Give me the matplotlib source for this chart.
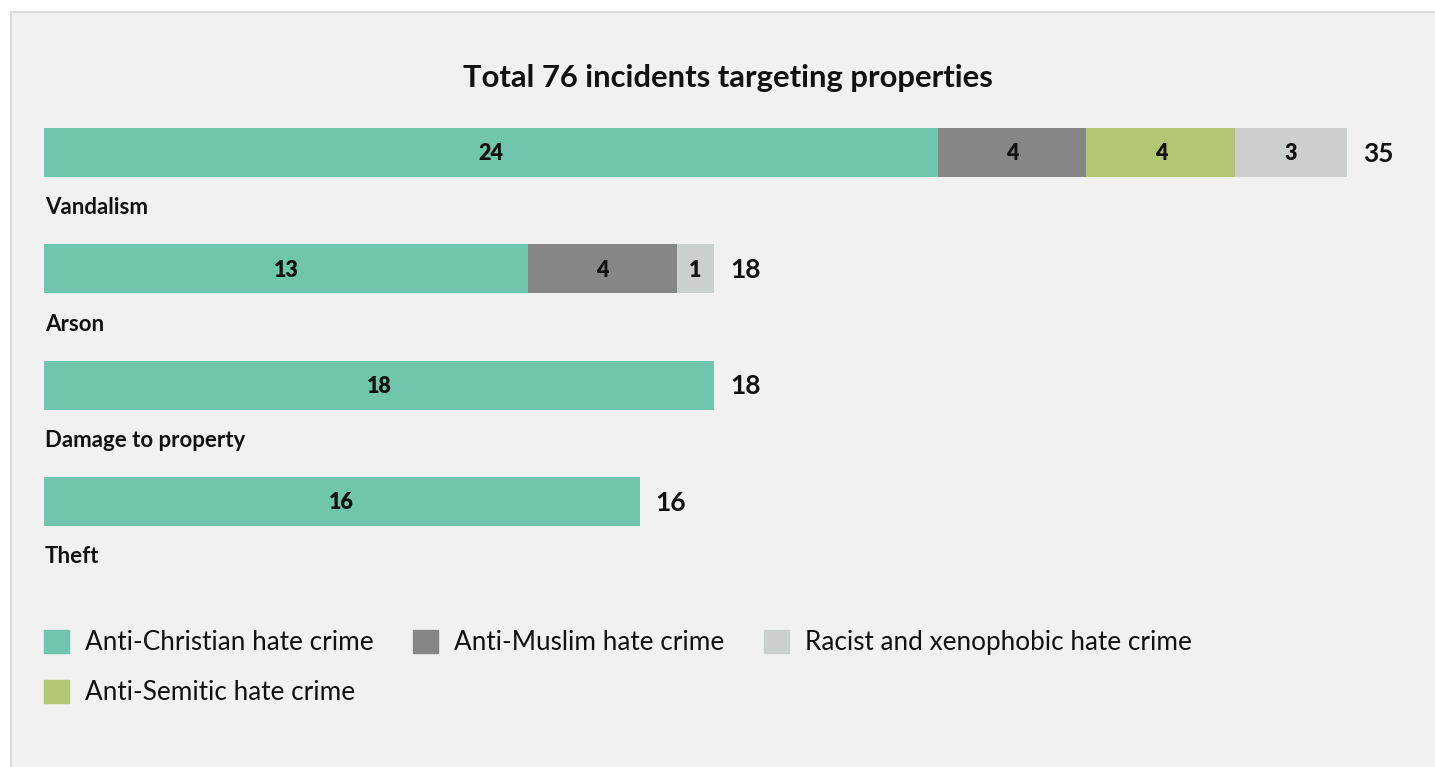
import matplotlib.pyplot as plt
import matplotlib.patches as mpatches
import numpy as np

# data
categories = ['Vandalism', 'Arson', 'Damage to property', 'Theft']
series = ['Anti-Christian hate crime', 'Anti-Muslim hate crime',
          'Anti-Semitic hate crime', 'Racist and xenophobic hate crime']
anti_christian = [24, 13, 18, 16]
anti_muslim = [4, 4, 0, 0]
anti_semitic = [4, 0, 0, 0]
racist = [3, 1, 0, 0]
title = 'Total 76 incidents targeting properties'

colors = ['#70c5ad', '#868686', '#b3c672', '#cbcfcf']
txt = '#111111'

plt.rcParams['font.family'] = ['Lato', 'DejaVu Sans']

W, H = 1435, 767
fig = plt.figure(figsize=(W / 100, H / 100), dpi=100, facecolor='white')

# panel background with light border
panel = mpatches.Rectangle((11 / W, -0.01), 1.0, (H - 12) / H + 0.01,
                           transform=fig.transFigure, facecolor='#f1f1f1',
                           edgecolor='#dcdcdc', linewidth=1.5, zorder=0)
fig.add_artist(panel)

# axes: 1 unit = ~37.2 px, bars centred 116 px apart
ax = fig.add_axes([44 / W, 1 - 559.6 / H, (W - 44) / W, 465.2 / H])
ax.set_facecolor('none')
ax.set_xlim(0, (W - 44) / 37.23)
ax.set_ylim(3.5, -0.5)
ax.axis('off')

y = np.arange(len(categories))
vals = [anti_christian, anti_muslim, anti_semitic, racist]
left = np.zeros(len(categories))
for v, c in zip(vals, colors):
    v = np.array(v, dtype=float)
    ax.barh(y, v, left=left, height=0.42, color=c, linewidth=0)
    for yi, (l, w) in enumerate(zip(left, v)):
        if w > 0:
            ax.text(l + w / 2, yi + 0.01, f'{int(w)}', ha='center', va='center',
                    fontsize=15.5, fontweight='heavy', color=txt)
    left += v

for yi, (cat, tot) in enumerate(zip(categories, left)):
    ax.text(tot + 0.42, yi + 0.01, f'{int(tot)}', ha='left', va='center',
            fontsize=19, fontweight='bold', color=txt)
    ax.text(0.03, yi + 0.475, cat, ha='left', va='center',
            fontsize=16, fontweight='bold', color=txt)

fig.text(728 / W, 1 - 78 / H, title, ha='center', va='center',
         fontsize=22.3, fontweight='bold', color=txt)

# legend: order so that column-wise fill gives the reference rows
order = [0, 2, 1, 3]
handles = [mpatches.Patch(color=colors[i], label=series[i]) for i in order]
fig.legend(handles=handles, ncol=3, loc='upper left',
           bbox_to_anchor=(44 / W, 1 - 630 / H), frameon=False,
           fontsize=18.8, handlelength=0.96, handleheight=0.96,
           handletextpad=0.62, columnspacing=1.5, labelspacing=0.95,
           borderpad=0, borderaxespad=0, labelcolor=txt)

fig.savefig('out.png', dpi=100, facecolor='white')
